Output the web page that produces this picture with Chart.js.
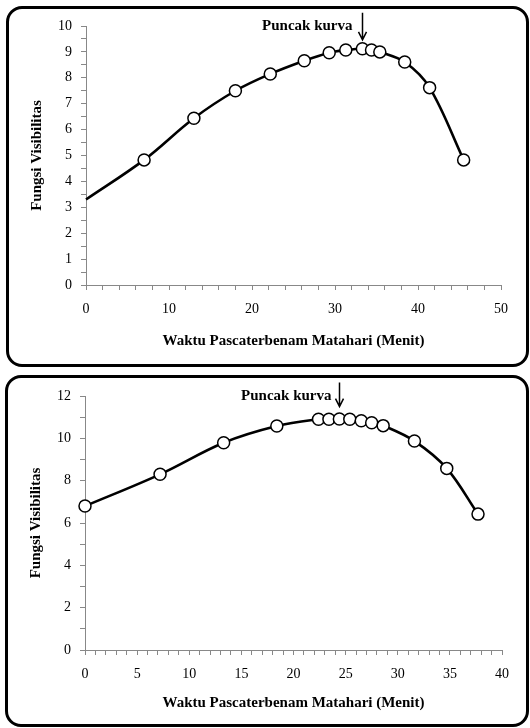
<!DOCTYPE html>
<html lang="id">
<head>
<meta charset="UTF-8">
<title>Fungsi Visibilitas</title>
<script src="https://cdn.jsdelivr.net/npm/chart.js"></script>
<style>
  body { margin: 0; background: #fff; }
  .box { position: absolute; box-sizing: border-box; border: 3px solid #000; border-radius: 16px; }
  #box1 { left: 6px; top: 6px; width: 523px; height: 361px; }
  #box2 { left: 5px; top: 375px; width: 524px; height: 352px; }
  .wrap { position: absolute; left: 0; width: 530px; }
  #wrap1 { top: 0; height: 370px; }
  #wrap2 { top: 370px; height: 358px; }
</style>
</head>
<body>
<div class="box" id="box1"></div>
<div class="box" id="box2"></div>
<div class="wrap" id="wrap1"><canvas id="chart1"></canvas></div>
<div class="wrap" id="wrap2"><canvas id="chart2"></canvas></div>

<script>
// grafik atas
const menit1 = [0, 7, 13, 18, 22.2, 26.3, 29.3, 31.3, 33.3, 34.4, 35.4, 38.4, 41.4, 45.5];
const visib1 = [3.3, 4.83, 6.44, 7.5, 8.15, 8.66, 8.97, 9.07, 9.12, 9.07, 9.0, 8.61, 7.62, 4.83];
const puncak1 = { x: 33.3, y: 9.12 };

// grafik bawah
const menit2 = [0, 7.2, 13.3, 18.4, 22.4, 23.4, 24.4, 25.4, 26.5, 27.5, 28.6, 31.6, 34.7, 37.7];
const visib2 = [6.8, 8.3, 9.79, 10.58, 10.9, 10.9, 10.91, 10.9, 10.83, 10.74, 10.6, 9.87, 8.58, 6.42];
const puncak2 = { x: 24.4, y: 10.91 };

const judulX = 'Waktu Pascaterbenam Matahari (Menit)';
const judulY = 'Fungsi Visibilitas';
const teksPuncak = 'Puncak kurva';

const serif = '"Liberation Serif", "Times New Roman", serif';
const abu = '#888888';

// panah + teks "Puncak kurva"
const peakLabel = {
  id: 'peakLabel',
  afterDatasetsDraw(chart, args, o) {
    const { ctx, scales: { x, y } } = chart;
    const px = Math.round(x.getPixelForValue(o.x)) + 0.5;
    const tip = y.getPixelForValue(o.y) - o.gap;
    const top = tip - o.length;
    ctx.save();
    ctx.strokeStyle = '#000';
    ctx.lineWidth = 1.5;
    ctx.beginPath();
    ctx.moveTo(px, top);
    ctx.lineTo(px, tip);
    ctx.moveTo(px - 4, tip - 8);
    ctx.lineTo(px, tip);
    ctx.lineTo(px + 4, tip - 8);
    ctx.stroke();
    ctx.font = 'bold 15px ' + serif;
    ctx.fillStyle = '#000';
    ctx.textAlign = 'right';
    ctx.textBaseline = 'middle';
    ctx.fillText(o.text, px - o.textGap, top + o.textDy);
    ctx.restore();
  }
};

function buatGrafik(id, xs, ys, radii, cfg) {
  new Chart(document.getElementById(id), {
    type: 'line',
    data: {
      datasets: [{
        data: xs.map((v, i) => ({ x: v, y: ys[i] })),
        borderColor: '#000',
        borderWidth: 2.6,
        tension: 0.35,
        pointRadius: radii,
        pointBackgroundColor: '#fff',
        pointBorderColor: '#000',
        pointBorderWidth: 1.5,
        clip: false
      }]
    },
    options: {
      responsive: true,
      maintainAspectRatio: false,
      animation: false,
      events: [],
      layout: { padding: { top: 26, right: cfg.padRight, left: 0, bottom: 0 } },
      plugins: {
        legend: { display: false },
        tooltip: { enabled: false },
        peakLabel: cfg.peak
      },
      scales: {
        x: {
          type: 'linear',
          min: 0, max: cfg.xMax,
          afterFit(s) { s.height = cfg.xHeight; },
          border: { color: abu, width: 1 },
          grid: { drawOnChartArea: false, drawTicks: true, tickLength: 5, color: abu },
          ticks: {
            stepSize: cfg.xMinor,
            autoSkip: false,
            maxRotation: 0,
            padding: cfg.xTickPad,
            color: '#000',
            font: { family: serif, size: 14 },
            callback: v => (v % cfg.xMajor === 0 ? v : '')
          },
          title: {
            display: true, text: judulX, color: '#000',
            font: { family: serif, size: 15, weight: 'bold' },
            padding: { top: 0, bottom: cfg.xTitlePad }
          }
        },
        y: {
          min: 0, max: cfg.yMax,
          afterFit(s) { s.width = cfg.yWidth; },
          border: { color: abu, width: 1 },
          grid: { drawOnChartArea: false, drawTicks: true, tickLength: 5, color: abu },
          ticks: {
            stepSize: cfg.yMinor,
            autoSkip: false,
            padding: 9,
            color: '#000',
            font: { family: serif, size: 14 },
            callback: v => (Math.abs(v % cfg.yMajor) < 1e-9 ? v : '')
          },
          title: {
            display: true, text: judulY, color: '#000',
            font: { family: serif, size: 15, weight: 'bold' },
            padding: { top: cfg.yTitlePad, bottom: 0 }
          }
        }
      }
    },
    plugins: [peakLabel]
  });
}

buatGrafik('chart1', menit1, visib1, menit1.map((v, i) => (i === 0 ? 0 : 6)), {
  xMax: 50, xMinor: 2, xMajor: 10, yMax: 10, yMinor: 0.5, yMajor: 1,
  padRight: 29, xHeight: 85, yWidth: 86, xTickPad: 11, xTitlePad: 20, yTitlePad: 28,
  peak: { x: puncak1.x, y: puncak1.y, gap: 9, length: 27, textGap: 10, textDy: 13, text: teksPuncak }
});

buatGrafik('chart2', menit2, visib2, 6, {
  xMax: 40, xMinor: 1, xMajor: 5, yMax: 12, yMinor: 1, yMajor: 2,
  padRight: 28, xHeight: 78, yWidth: 85, xTickPad: 10.5, xTitlePad: 16, yTitlePad: 27,
  peak: { x: puncak2.x, y: puncak2.y, gap: 12.5, length: 24, textGap: 8, textDy: 14, text: teksPuncak }
});
</script>
</body>
</html>
